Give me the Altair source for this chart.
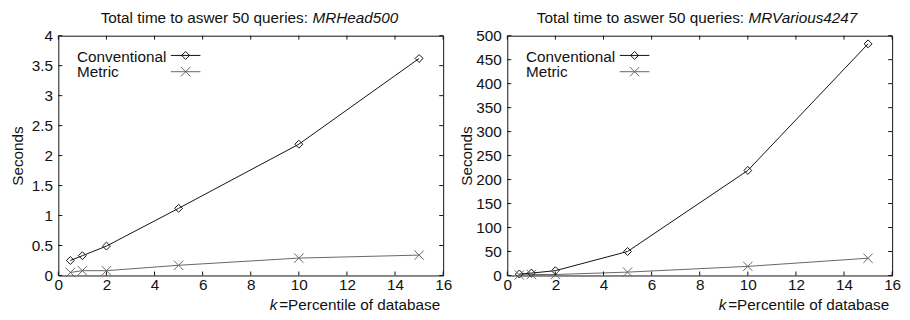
import altair as alt
import pandas as pd

# ---- data ----
k_values = [0.5, 1, 2, 5, 10, 15]
head_conventional = [0.25, 0.33, 0.49, 1.12, 2.19, 3.62]
head_metric = [0.05, 0.08, 0.08, 0.17, 0.29, 0.34]
various_conventional = [3, 5, 10, 50, 219, 483]
various_metric = [1, 2, 2, 7, 19, 36]
x_ticks = [0, 2, 4, 6, 8, 10, 12, 14, 16]
head_y_ticks = [0, 0.5, 1, 1.5, 2, 2.5, 3, 3.5, 4]
various_y_ticks = [0, 50, 100, 150, 200, 250, 300, 350, 400, 450, 500]
series_names = ["Conventional", "Metric"]

W, H = 390, 243
FONT = "Liberation Sans"
FS = 15.5
BLACK = "#111111"
GREY = "#666666"
XSHAPE = "M-1,-1L1,1M-1,1L1,-1"


def panel(conv, metric, y_ticks, y_max, name, split):
    df = pd.DataFrame({
        "k": k_values * 2,
        "sec": conv + metric,
        "series": [series_names[0]] * len(k_values) + [series_names[1]] * len(k_values),
    })
    xs = alt.Scale(domain=[0, 16], nice=False, zero=False)
    ys = alt.Scale(domain=[0, y_max], nice=False, zero=False)
    xaxis = alt.Axis(values=x_ticks, ticks=False, domain=False, grid=False,
                     labelPadding=2, labelFlush=False, title=None, format="~r")
    yaxis = alt.Axis(values=y_ticks, ticks=False, domain=False, grid=False,
                     labelPadding=6, labelFlush=False, title="Seconds", format="~r",
                     titleX=-41, titleY=H / 2, titleBaseline="middle", titleAngle=270)

    def X():
        return alt.X("k:Q", scale=xs, axis=xaxis)

    def Y():
        return alt.Y("sec:Q", scale=ys, axis=yaxis)

    color = alt.Color("series:N", scale=alt.Scale(domain=series_names, range=[BLACK, GREY]), legend=None)

    lines = alt.Chart(df).mark_line(strokeWidth=1).encode(x=X(), y=Y(), color=color)
    conv_pts = alt.Chart(df).transform_filter(alt.datum.series == "Conventional").mark_point(
        shape="diamond", size=64, filled=False, color=BLACK, strokeWidth=1, opacity=1
    ).encode(x=X(), y=Y())
    met_pts = alt.Chart(df).transform_filter(alt.datum.series == "Metric").mark_point(
        shape=XSHAPE, size=90, filled=False, color=GREY, strokeWidth=1, opacity=1
    ).encode(x=X(), y=Y())

    xt = pd.DataFrame({"k": x_ticks})
    yt = pd.DataFrame({"sec": y_ticks})
    tick_len = 4
    xticks_bottom = alt.Chart(xt).mark_rule(color=BLACK, strokeWidth=1).encode(
        x=X(), y=alt.value(H), y2=alt.value(H - tick_len))
    xticks_top = alt.Chart(xt).mark_rule(color=BLACK, strokeWidth=1).encode(
        x=X(), y=alt.value(0), y2=alt.value(tick_len))
    yticks_left = alt.Chart(yt).mark_rule(color=BLACK, strokeWidth=1).encode(
        y=Y(), x=alt.value(0), x2=alt.value(tick_len))
    yticks_right = alt.Chart(yt).mark_rule(color=BLACK, strokeWidth=1).encode(
        y=Y(), x=alt.value(W), x2=alt.value(W - tick_len))

    one = pd.DataFrame({"a": [0]})
    txt = dict(font=FONT, fontSize=FS, color=BLACK, baseline="alphabetic")
    title_a = alt.Chart(one).mark_text(align="right", text="Total time to aswer 50 queries:", **txt).encode(
        x=alt.value(split), y=alt.value(-13))
    title_b = alt.Chart(one).mark_text(align="left", text=name, fontStyle="italic", **txt).encode(
        x=alt.value(split + 4.5), y=alt.value(-13))
    xt_k = alt.Chart(one).mark_text(align="right", text="k", fontStyle="italic", **txt).encode(
        x=alt.value(222), y=alt.value(H + 35))
    xt_rest = alt.Chart(one).mark_text(align="right", text="=Percentile of database", **txt).encode(
        x=alt.value(387), y=alt.value(H + 35))

    # legend (text left of sample line, gnuplot style)
    leg_conv_t = alt.Chart(one).mark_text(align="left", text="Conventional", **txt).encode(
        x=alt.value(19), y=alt.value(26.5))
    leg_met_t = alt.Chart(one).mark_text(align="left", text="Metric", **txt).encode(
        x=alt.value(19), y=alt.value(42))
    leg_conv_l = alt.Chart(one).mark_rule(color=BLACK, strokeWidth=1).encode(
        x=alt.value(114), x2=alt.value(144), y=alt.value(20))
    leg_met_l = alt.Chart(one).mark_rule(color=GREY, strokeWidth=1).encode(
        x=alt.value(114), x2=alt.value(144), y=alt.value(36.5))
    leg_conv_p = alt.Chart(one).mark_point(shape="diamond", size=64, filled=False, color=BLACK,
                                           strokeWidth=1, opacity=1).encode(
        x=alt.value(129), y=alt.value(20))
    leg_met_p = alt.Chart(one).mark_point(shape=XSHAPE, size=90, filled=False, color=GREY,
                                          strokeWidth=1, opacity=1).encode(
        x=alt.value(129), y=alt.value(36.5))

    return alt.layer(
        lines, conv_pts, met_pts,
        xticks_bottom, xticks_top, yticks_left, yticks_right,
        title_a, title_b, xt_k, xt_rest,
        leg_conv_l, leg_met_l, leg_conv_p, leg_met_p, leg_conv_t, leg_met_t,
    ).properties(width=W, height=H)


left = panel(head_conventional, head_metric, head_y_ticks, 4, "MRHead500", 253)
right = panel(various_conventional, various_metric, various_y_ticks, 500, "MRVarious4247", 240)

chart = alt.hconcat(left, right, spacing=65, bounds="flush").properties(
    padding={"left": 2, "top": 0, "right": 0, "bottom": 0},
    background="white",
).configure_view(stroke=BLACK, strokeWidth=1).configure_axis(
    labelFont=FONT, labelFontSize=FS, labelColor=BLACK,
    titleFont=FONT, titleFontSize=FS, titleColor=BLACK, titleFontWeight="normal",
)

chart.save("out.html", embed_options={"renderer": "svg", "actions": False})
